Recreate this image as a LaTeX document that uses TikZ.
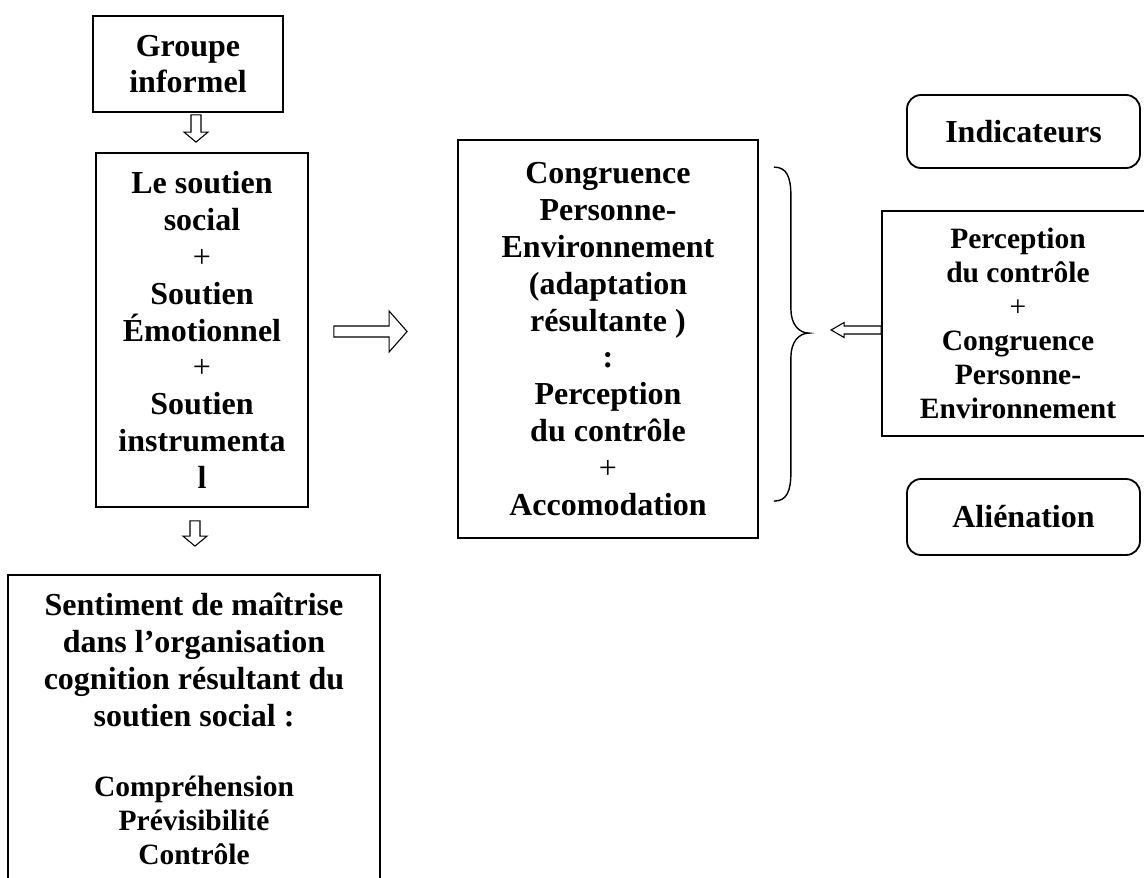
\documentclass[tikz,border=0pt]{standalone}
\usepackage{fontspec}
\setmainfont{Liberation Serif}
\usetikzlibrary{calc}

% hollow block arrow, horizontal: start, tip, shaft half width, head half width, head length
\newcommand{\hollowharrow}[5]{%
  \draw[hollow] let \p1=(#1), \p2=(#2), \n1={sign(\x2-\x1)} in
    (\x1,\y1+#3) -- (\x2-\n1*#5,\y1+#3) -- (\x2-\n1*#5,\y1+#4) -- (\x2,\y1)
    -- (\x2-\n1*#5,\y1-#4) -- (\x2-\n1*#5,\y1-#3) -- (\x1,\y1-#3) -- cycle;}
% hollow block arrow, vertical
\newcommand{\hollowvarrow}[5]{%
  \draw[hollow] let \p1=(#1), \p2=(#2), \n1={sign(\y2-\y1)} in
    (\x1+#3,\y1) -- (\x1+#3,\y2-\n1*#5) -- (\x1+#4,\y2-\n1*#5) -- (\x1,\y2)
    -- (\x1-#4,\y2-\n1*#5) -- (\x1-#3,\y2-\n1*#5) -- (\x1-#3,\y1) -- cycle;}
% smaller type for the list at the bottom of the left column
\newcommand{\lowlist}{\fontsize{29.5}{33.9}\selectfont}

\begin{document}
\begin{tikzpicture}[x=1pt,y=-1pt,
  boxline/.style={draw=black, line width=1.8pt},
  textbox/.style={boxline, align=center, inner sep=0pt,
    font=\bfseries\fontsize{32}{36.8}\selectfont},
  smalltext/.style={font=\bfseries\fontsize{29.5}{33.9}\selectfont},
  softbox/.style={textbox, rounded corners=14pt},
  hollow/.style={draw=black, line width=1.1pt, fill=white, line join=miter},
  bracestyle/.style={draw=black, line width=1.4pt}]

  \fill[white] (0,0) rectangle (1144,878);
  \useasboundingbox (0,0) rectangle (1144,878);
  \clip (0,0) rectangle (1144,878);

  % left column
  \node[textbox, minimum width=190, minimum height=96] (grp) at (188,64)
    {Groupe\\informel};
  \node[textbox, minimum width=212, minimum height=354] (sout) at (202,330)
    {Le soutien\\social\\\textmd{+}\\Soutien\\Émotionnel\\\textmd{+}\\Soutien\\instrumenta\\l};
  \node[textbox, minimum width=372, minimum height=308] (maitr) at (194,729)
    {Sentiment de maîtrise\\dans l’organisation\\cognition résultant du\\soutien social :\\[33.9pt]
     \lowlist Compréhension\\[-2.9pt]\lowlist Prévisibilité\\[-2.9pt]\lowlist Contrôle};

  % central box
  \node[textbox, minimum width=300, minimum height=398] (cong) at (608,339)
    {Congruence\\Personne-\\Environnement\\(adaptation\\résultante )\\:\\Perception\\du contrôle\\\textmd{+}\\Accomodation};

  % right column
  \node[softbox, minimum width=233, minimum height=73] (ind) at (1023.5,131.5) {Indicateurs};
  \node[textbox, smalltext, minimum width=272, minimum height=225] (perc) at (1018,323.5)
    {Perception\\du contrôle\\\textmd{+}\\Congruence\\Personne-\\Environnement};
  \node[softbox, minimum width=233, minimum height=76] (alien) at (1023.5,517) {Aliénation};

  % arrow end points
  \coordinate (d1s) at ($(grp.south)+(8,2)$);
  \coordinate (d1t) at ($(sout.north)+(-6,-10)$);
  \coordinate (d2s) at ($(sout.south)+(-7,13)$);
  \coordinate (d2t) at ($(maitr.north)+(1,-28)$);
  \coordinate (rs) at ($(sout.east)+(25,1.5)$);
  \coordinate (rt) at ($(cong.west)+(-50,1.5)$);
  \coordinate (ls) at ($(perc.west)+(0,6.5)$);
  \coordinate (lt) at ($(perc.west)+(-50,6.5)$);

  \hollowvarrow{d1s}{d1t}{5pt}{12pt}{10pt}
  \hollowvarrow{d2s}{d2t}{5pt}{12pt}{10pt}
  \hollowharrow{rs}{rt}{5.5pt}{20.5pt}{18pt}
  \hollowharrow{ls}{lt}{4pt}{7.5pt}{13pt}

  % brace grouping the central box
  \coordinate (brtop) at ($(cong.north east)+(15,28)$);
  \draw[bracestyle] (brtop) .. controls ++(13,0) and ++(0,-19) .. ++(17,29)
    -- ++(0,113) .. controls ++(0,15) and ++(-10,0) .. ++(18,24)
    .. controls ++(-10,0) and ++(0,-15) .. ++(-18,24)
    -- ++(0,115) .. controls ++(0,19) and ++(13,0) .. ++(-17,29);
\end{tikzpicture}
\end{document}
